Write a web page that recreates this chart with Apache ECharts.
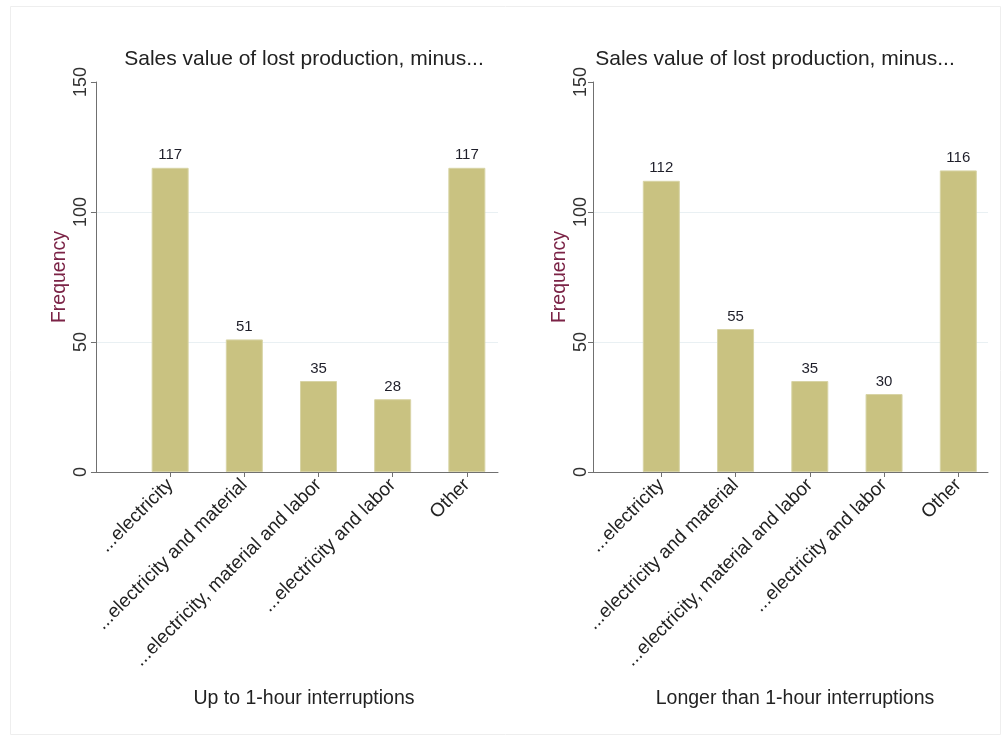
<!DOCTYPE html>
<html>
<head>
<meta charset="utf-8">
<script src="https://cdn.jsdelivr.net/npm/echarts@6/dist/echarts.min.js"></script>
<style>
  html, body { margin: 0; padding: 0; background: #fff; }
  #chart { width: 1008px; height: 740px; }
</style>
</head>
<body>
<div id="chart"></div>
<script>
const categories = [
  "...electricity",
  "...electricity and material",
  "...electricity, material and labor",
  "...electricity and labor",
  "Other",
];
const upToOneHour = [117, 51, 35, 28, 117];
const longerThanOneHour = [112, 55, 35, 30, 116];
const panelTitle = "Sales value of lost production, minus...";
const panelNotes = ["Up to 1-hour interruptions", "Longer than 1-hour interruptions"];

const font = "Liberation Sans, Arial, sans-serif";
const barColor = "#c9c281";
const catPos = categories.map((c, i) => i + 1);

// one panel = one grid, Stata-like look
const makeX = (gridIndex, min, max) => ({
  type: "value",
  gridIndex,
  min,
  max,
  axisLine: { show: true, onZero: false, lineStyle: { color: "#707070", width: 1 } },
  axisTick: { show: true, length: 5, customValues: catPos, lineStyle: { color: "#707070" } },
  axisLabel: {
    customValues: catPos,
    rotate: 45,
    margin: 10,
    fontSize: 19,
    fontFamily: font,
    color: "#222",
    formatter: (v) => categories[Math.round(v) - 1] || "",
  },
  splitLine: { show: false },
});

const makeY = (gridIndex) => ({
  type: "value",
  gridIndex,
  min: 0,
  max: 150,
  interval: 50,
  name: "Frequency",
  nameLocation: "middle",
  nameGap: 23,
  nameRotate: 90,
  nameTextStyle: { fontSize: 19.5, fontFamily: font, color: "#7b2346" },
  axisLine: { show: true, lineStyle: { color: "#707070", width: 1 } },
  axisTick: { show: true, length: 5, lineStyle: { color: "#707070" } },
  axisLabel: { rotate: 90, margin: 3, fontSize: 18, fontFamily: font, color: "#333" },
  splitLine: {
    show: true,
    showMinLine: false,
    showMaxLine: false,
    lineStyle: { color: "#e9f0f3", width: 1 },
  },
});

const makeSeries = (idx, values) => ({
  type: "bar",
  xAxisIndex: idx,
  yAxisIndex: idx,
  barWidth: 37,
  data: values.map((v, i) => [catPos[i], v]),
  itemStyle: { color: barColor, borderColor: "#d8d4a6", borderWidth: 1 },
  label: {
    show: true,
    position: "top",
    distance: 5,
    fontSize: 15,
    fontFamily: font,
    color: "#1f1f2a",
    formatter: (p) => p.value[1],
  },
  silent: true,
});

const titleStyle = (size) => ({ fontSize: size, fontWeight: "normal", fontFamily: font, color: "#222" });

const option = {
  backgroundColor: "#fff",
  animation: false,
  title: [
    { text: panelTitle, left: 299, top: 44, textAlign: "center", textStyle: titleStyle(21) },
    { text: panelTitle, left: 770, top: 44, textAlign: "center", textStyle: titleStyle(21) },
    { text: panelNotes[0], left: 299, top: 684, textAlign: "center", textStyle: titleStyle(19.5) },
    { text: panelNotes[1], left: 790, top: 684, textAlign: "center", textStyle: titleStyle(19.5) },
  ],
  grid: [
    { left: 93, right: 510, top: 82, bottom: 268 },
    { left: 593, right: 20, top: 82, bottom: 268 },
  ],
  xAxis: [makeX(0, -0.04, 5.42), makeX(1, 0.08, 5.4)],
  yAxis: [makeY(0), makeY(1)],
  series: [makeSeries(0, upToOneHour), makeSeries(1, longerThanOneHour)],
  graphic: [
    {
      type: "rect",
      shape: { x: 10.5, y: 6.5, width: 990, height: 728 },
      style: { fill: "none", stroke: "#eeeeee", lineWidth: 1 },
      silent: true,
    },
  ],
};

echarts.init(document.getElementById("chart")).setOption(option);
</script>
</body>
</html>
